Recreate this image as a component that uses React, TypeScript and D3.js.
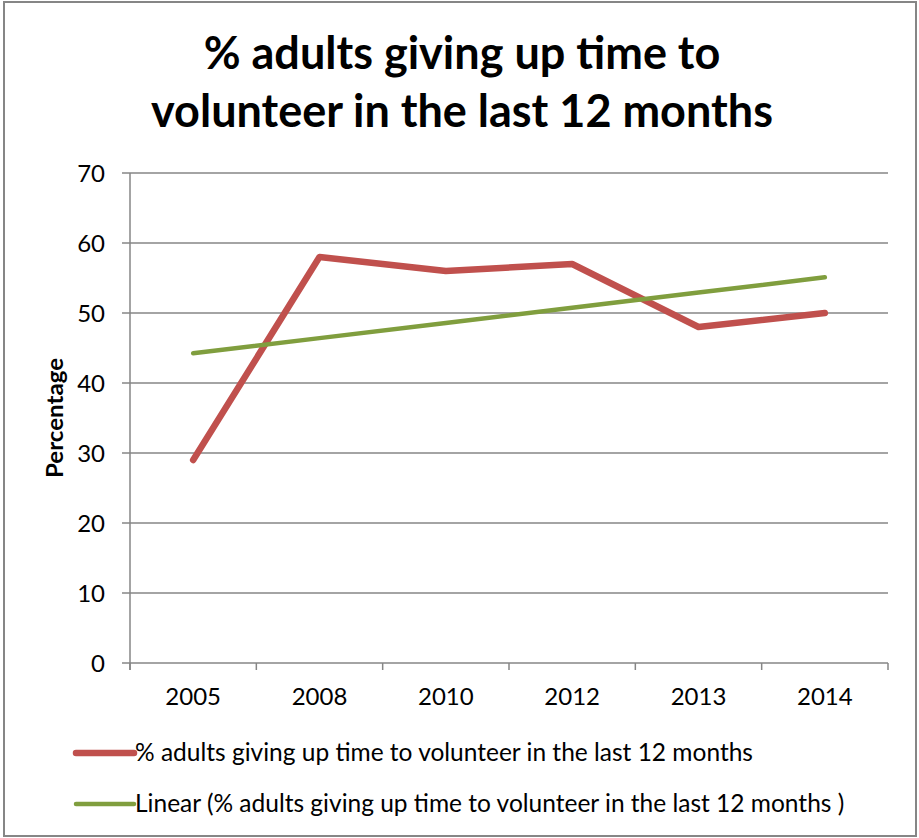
import React from "react";
import * as d3 from "d3";

const categories = ["2005", "2008", "2010", "2012", "2013", "2014"];
const values = [29, 58, 56, 57, 48, 50];
const yTicks = [0, 10, 20, 30, 40, 50, 60, 70];
const titleLines = ["% adults giving up time to", "volunteer in the last 12 months"];
const seriesName = "% adults giving up time to volunteer in the last 12 months";
const trendName = "Linear (% adults giving up time to volunteer in the last 12 months )";

const W = 919, H = 838;
const plot = { left: 130, right: 888, top: 173, bottom: 663 };
const FONT = "Lato, 'Open Sans', sans-serif";

export default function App() {
  const x = d3.scaleBand().domain(categories).range([plot.left, plot.right]);
  const y = d3.scaleLinear().domain([0, 70]).range([plot.bottom, plot.top]);
  const cx = (c: string) => (x(c) as number) + x.bandwidth() / 2;

  // linear regression trendline
  const xs = values.map((_, i) => i + 1);
  const mx = d3.mean(xs) as number;
  const my = d3.mean(values) as number;
  const slope = d3.sum(xs.map((xi, i) => (xi - mx) * (values[i] - my))) / d3.sum(xs.map((xi) => (xi - mx) ** 2));
  const intercept = my - slope * mx;
  const trend = categories.map((c, i) => ({ c, v: intercept + slope * (i + 1) }));

  const line = d3.line<{ c: string; v: number }>().x((d) => cx(d.c)).y((d) => y(d.v));
  const data = categories.map((c, i) => ({ c, v: values[i] }));

  const grid = "#868686";
  const red = "#C0504D";
  const green = "#809E3E";
  const boundaries = [...categories.map((c) => x(c) as number), plot.right];

  return (
    <svg width={W} height={H} style={{ position: "absolute", left: 0, top: 0, background: "#fff" }} fontFamily={FONT}>
      <rect x={4} y={2} width={912} height={834} fill="#fff" stroke="#868686" strokeWidth={2} />
      {titleLines.map((t, i) => (
        <text key={i} x={462} y={69 + i * 58} textAnchor="middle" fontSize={45} fontWeight="bold" fill="#000">
          {t}
        </text>
      ))}
      {yTicks.map((t) => (
        <g key={t}>
          <line x1={plot.left - 8} x2={plot.right} y1={y(t)} y2={y(t)} stroke={grid} strokeWidth={1.5} />
          <text x={105} y={y(t) + 8.5} textAnchor="end" fontSize={24} fill="#000">{t}</text>
        </g>
      ))}
      <line x1={plot.left} x2={plot.left} y1={plot.top} y2={plot.bottom + 7} stroke={grid} strokeWidth={1.5} />
      {boundaries.map((b, i) => (
        <line key={i} x1={b} x2={b} y1={plot.bottom} y2={plot.bottom + 7} stroke={grid} strokeWidth={1.5} />
      ))}
      {categories.map((c) => (
        <text key={c} x={cx(c)} y={705} textAnchor="middle" fontSize={24} fill="#000">{c}</text>
      ))}
      <text transform="translate(63,418) rotate(-90)" textAnchor="middle" fontSize={22} fontWeight="bold" fill="#000"
        textLength={120} lengthAdjust="spacingAndGlyphs">
        Percentage
      </text>
      <path d={line(data) || ""} fill="none" stroke={red} strokeWidth={6.5} strokeLinejoin="round" strokeLinecap="round" />
      <path d={line(trend) || ""} fill="none" stroke={green} strokeWidth={4.5} strokeLinecap="round" />
      <line x1={76} x2={134} y1={753} y2={753} stroke={red} strokeWidth={6.5} strokeLinecap="round" />
      <text x={135} y={761} fontSize={24.5} fill="#000">{seriesName}</text>
      <line x1={76} x2={134} y1={804} y2={804} stroke={green} strokeWidth={4.5} strokeLinecap="round" />
      <text x={135} y={812} fontSize={24.5} fill="#000">{trendName}</text>
    </svg>
  );
}
